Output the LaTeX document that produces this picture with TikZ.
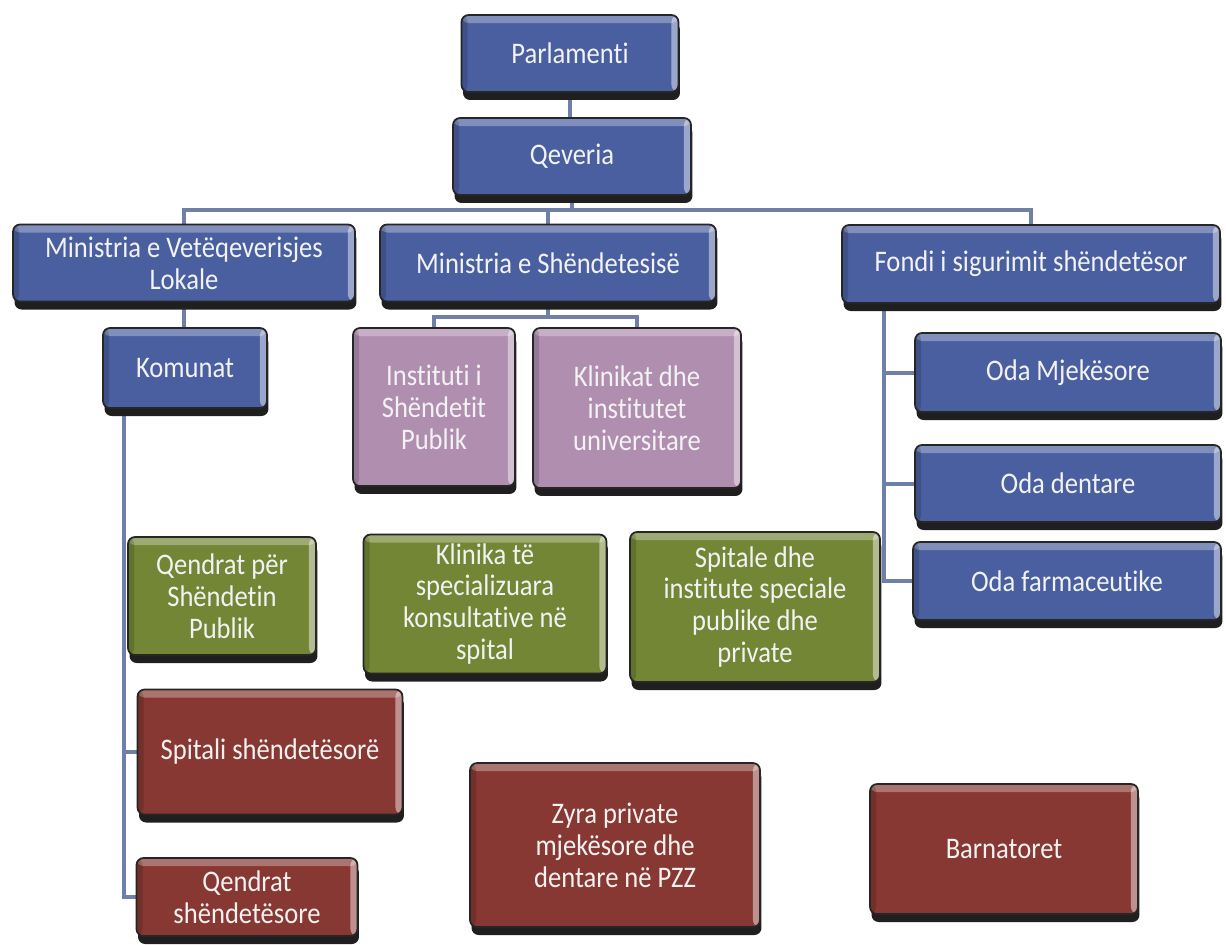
\documentclass[tikz,border=0pt]{standalone}
\usepackage{fontspec}
\setmainfont{Carlito}[FakeStretch=0.89, RawFeature={-liga;-clig;-calt;-dlig}]
\usepackage{tikz}
\usetikzlibrary{shadows,backgrounds}
\usepackage{xcolor}

\definecolor{boxblue}{HTML}{4A5F9F}
\definecolor{boxmauve}{HTML}{B08EB0}
\definecolor{boxgreen}{HTML}{738636}
\definecolor{boxred}{HTML}{883832}
\definecolor{linkgrey}{HTML}{6F80A8}

\tikzset{
	orgbox/.style={draw=black!85, line width=1pt, rounded corners=4pt, align=center, text=white!95!black,
		inner sep=2pt, font=\fontsize{17}{18.2}\selectfont,
		drop shadow={shadow xshift=0.03cm, shadow yshift=-0.16cm, fill=black!88, opacity=1},
		path picture={
			\fill[white,opacity=0.3] (path picture bounding box.north west) rectangle ([yshift=-0.16cm]path picture bounding box.north east);
			\fill[white,opacity=0.45] ([xshift=-0.14cm]path picture bounding box.north east) rectangle (path picture bounding box.south east);
			\fill[black,opacity=0.15] (path picture bounding box.north west) rectangle ([xshift=0.12cm]path picture bounding box.south west);
		}},
	bluebox/.style={orgbox, fill=boxblue},
	mauvebox/.style={orgbox, fill=boxmauve},
	greenbox/.style={orgbox, fill=boxgreen},
	redbox/.style={orgbox, fill=boxred},
	link/.style={draw=linkgrey, line width=0.08cm}
}

\begin{document}
\begin{tikzpicture}[x=0.02cm,y=-0.02cm]
	\useasboundingbox (0,0) rectangle (1226,944);

	% top
	\node[bluebox, minimum width=4.34cm, minimum height=1.54cm] (parl) at (570,53.5) {Parlamenti};
	\node[bluebox, minimum width=4.76cm, minimum height=1.54cm] (qev) at (572,156.5) {Qeveria};

	% ministries
	\node[bluebox, minimum width=6.84cm, minimum height=1.54cm] (mvl) at (184,263) {Ministria e Vetëqeverisjes\\Lokale};
	\node[bluebox, minimum width=6.72cm, minimum height=1.54cm] (msh) at (548,263) {Ministria e Shëndetesisë};
	\node[bluebox, minimum width=7.56cm, minimum height=1.56cm] (fondi) at (1031,264) {Fondi i sigurimit shëndetësor};

	% second row
	\node[bluebox, minimum width=3.28cm, minimum height=1.6cm] (kom) at (185,368) {Komunat};
	\node[mauvebox, minimum width=3.24cm, minimum height=3.16cm] (inst) at (434,407) {Instituti i\\Shëndetit\\Publik};
	\node[mauvebox, minimum width=4.16cm, minimum height=3.2cm] (klin) at (637,408) {Klinikat dhe\\institutet\\universitare};

	% chambers
	\node[bluebox, minimum width=6.12cm, minimum height=1.58cm] (odam) at (1068,372.5) {Oda Mjekësore};
	\node[bluebox, minimum width=6.12cm, minimum height=1.54cm] (odad) at (1068,483.5) {Oda dentare};
	\node[bluebox, minimum width=6.16cm, minimum height=1.56cm] (odaf) at (1067,581) {Oda farmaceutike};

	% green row
	\node[greenbox, minimum width=3.76cm, minimum height=2.36cm] (qpsh) at (222,596) {Qendrat për\\Shëndetin\\Publik};
	\node[greenbox, minimum width=4.86cm, minimum height=2.78cm] (kspec) at (485,604) {Klinika të\\specializuara\\konsultative në\\spital};
	\node[greenbox, minimum width=5cm, minimum height=3cm] (spitale) at (755,607) {Spitale dhe\\institute speciale\\publike dhe\\private};

	% red boxes
	\node[redbox, minimum width=5.3cm, minimum height=2.5cm] (spitali) at (270,752) {Spitali shëndetësorë};
	\node[redbox, minimum width=4.42cm, minimum height=1.56cm] (qsh) at (247,897) {Qendrat\\shëndetësore};
	\node[redbox, minimum width=5.8cm, minimum height=3.28cm] (zyra) at (615,845) {Zyra private\\mjekësore dhe\\dentare në PZZ};
	\node[redbox, minimum width=5.36cm, minimum height=2.6cm] (barn) at (1004,849) {Barnatoret};

	% connectors
	\begin{pgfonlayer}{background}
		\coordinate (bus) at (0,210);
		\draw[link] (parl.south) -- (parl.south |- qev.north);
		\draw[link] (qev.south) -- (qev.south |- bus);
		\draw[link] (mvl.north) |- (bus -| fondi.north) -- (fondi.north);
		\draw[link] (msh.north) -- (msh.north |- bus);

		\draw[link] (mvl.south) -- (mvl.south |- kom.north);
		\coordinate (kx) at ([xshift=0.44cm]kom.south west);
		\draw[link] (kx) |- (qsh.west);
		\draw[link] (spitali.west) -- (spitali.west -| kx);

		\coordinate (bus2) at ([yshift=0.2cm]inst.north);
		\draw[link] (msh.south) -- (msh.south |- bus2);
		\draw[link] (inst.north) |- (bus2 -| klin.north) -- (klin.north);

		\coordinate (fx) at ([xshift=0.86cm]fondi.south west);
		\draw[link] (fx) |- (odaf.west);
		\draw[link] (odam.west) -- (odam.west -| fx);
		\draw[link] (odad.west) -- (odad.west -| fx);
	\end{pgfonlayer}

\end{tikzpicture}
\end{document}
